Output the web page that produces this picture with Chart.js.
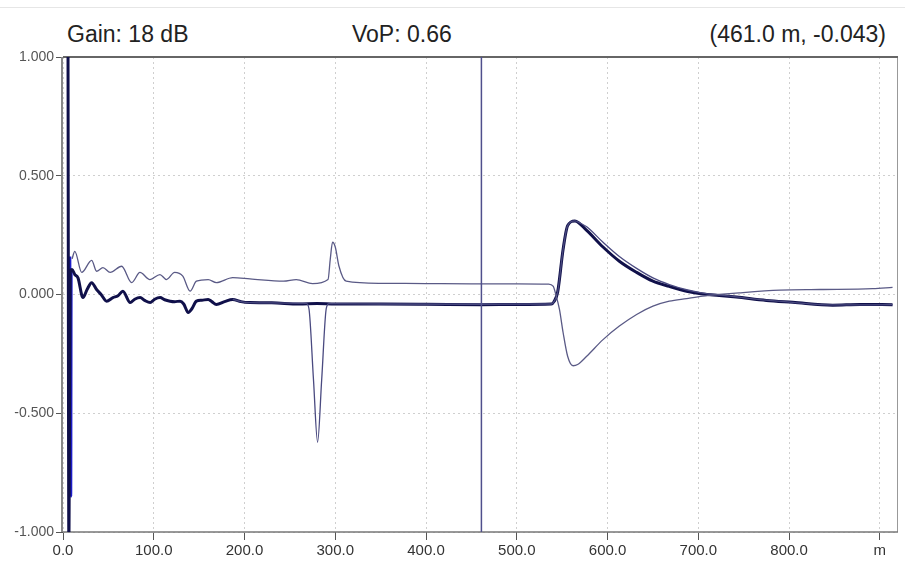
<!DOCTYPE html>
<html lang="en">
<head>
  <meta charset="UTF-8" />
  <title>TDR trace</title>
  <script src="https://cdn.jsdelivr.net/npm/chart.js"></script>
  <style>
    html, body { margin: 0; padding: 0; background: #fff; }
    #wrap { position: relative; width: 905px; height: 565px; overflow: hidden; font-family: "Liberation Sans", Arial, sans-serif; }
    #wrap canvas { position: absolute; left: 0; top: 0; }
    .topline { position: absolute; left: 0; right: 0; top: 7px; border-top: 1px solid #e6e6e6; }
    .hdr { position: absolute; top: 21px; font-size: 23px; color: #222; white-space: nowrap; }
  </style>
</head>
<body>
  <div id="wrap">
    <div class="topline"></div>
    <div class="hdr" style="left:67px">Gain: 18 dB</div>
    <div class="hdr" style="left:352px">VoP: 0.66</div>
    <div class="hdr" style="right:19px">(461.0 m, -0.043)</div>
    <canvas id="trace" width="905" height="565"></canvas>
  </div>

  <script>
    // distance in metres, amplitude in normalised units
    const thickDist = [5.5, 6.5, 8, 10, 13, 16.5, 22, 26.4, 31.6, 37, 42, 48, 55, 60.6, 66, 74, 79, 85, 90, 96, 101, 107, 112, 118, 123, 129, 133, 138, 142, 147, 153, 160, 164, 169, 178, 187, 196, 206, 230, 260, 280, 300, 350, 400, 461, 500, 538, 541, 545, 551, 556, 564, 577, 595, 613, 632, 650, 668, 687, 705, 723, 742, 775, 804, 848, 878, 914];
    const thickVal = [1.1, -1.1, 0.1, 0.105, 0.084, 0.07, -0.013, 0.02, 0.05, 0.021, 0.0, -0.028, -0.013, -0.005, 0.014, -0.034, -0.02, -0.013, -0.025, -0.034, -0.02, -0.013, -0.022, -0.028, -0.03, -0.028, -0.04, -0.076, -0.06, -0.028, -0.024, -0.021, -0.03, -0.042, -0.03, -0.021, -0.03, -0.034, -0.035, -0.04, -0.038, -0.04, -0.04, -0.041, -0.043, -0.042, -0.04, -0.03, 0.01, 0.19, 0.29, 0.31, 0.27, 0.2, 0.14, 0.093, 0.056, 0.034, 0.014, 0.002, -0.004, -0.011, -0.025, -0.033, -0.045, -0.042, -0.043];

    const lowDist = [187, 196, 206, 230, 268, 271, 276, 280.5, 285, 290, 293, 350, 450, 538, 541, 545, 551, 556, 564, 570, 577, 595, 613, 632, 650, 668, 687, 705, 723, 742, 775, 804, 848, 914];
    const lowVal = [-0.021, -0.03, -0.034, -0.035, -0.037, -0.06, -0.36, -0.622, -0.36, -0.06, -0.038, -0.04, -0.041, -0.04, -0.03, 0.01, 0.19, 0.29, 0.31, 0.3, 0.285, 0.22, 0.16, 0.11, 0.07, 0.042, 0.02, 0.006, -0.002, -0.01, -0.024, -0.033, -0.044, -0.043];

    const highDist = [10, 13, 20.6, 31.6, 37, 44, 52, 64.6, 75.7, 84.8, 95.8, 106.8, 114, 123, 132, 140, 147, 160, 169, 187, 206, 243, 257, 275, 292, 294.5, 297, 300, 304, 312, 350, 400, 450, 500, 535, 540, 543, 547, 551, 556, 562, 567, 577, 595, 613, 632, 650, 668, 687, 705, 723, 745, 790, 834, 892, 914];
    const highVal = [0.15, 0.182, 0.093, 0.144, 0.098, 0.113, 0.093, 0.119, 0.05, 0.093, 0.063, 0.084, 0.063, 0.093, 0.077, 0.014, 0.056, 0.063, 0.05, 0.071, 0.066, 0.056, 0.063, 0.046, 0.063, 0.15, 0.22, 0.2, 0.12, 0.056, 0.047, 0.046, 0.045, 0.045, 0.044, 0.035, 0.0, -0.063, -0.16, -0.26, -0.3, -0.295, -0.26, -0.19, -0.133, -0.084, -0.049, -0.028, -0.017, -0.007, 0.0, 0.007, 0.018, 0.021, 0.025, 0.03];

    const nearDist = [7.8, 8.3, 8.8, 9.3, 10];
    const nearVal = [0.16, -0.3, -0.85, 0.1, 0.1];

    const cursorDist = 461.0;
    const xTicks = [0, 100, 200, 300, 400, 500, 600, 700, 800, 900];
    const yTicks = [-1, -0.5, 0, 0.5, 1];

    const pts = (xs, ys) => xs.map((x, i) => ({ x: x, y: ys[i] }));

    const framePlugin = {
      id: 'frame',
      beforeDatasetsDraw(chart) {
        const { ctx, chartArea: a } = chart;
        ctx.save();
        ctx.strokeStyle = '#999';
        ctx.lineWidth = 1;
        ctx.beginPath();
        ctx.moveTo(a.right - 0.5, a.top);
        ctx.lineTo(a.right - 0.5, a.bottom);
        ctx.stroke();
        ctx.strokeStyle = '#666';
        ctx.lineWidth = 2;
        ctx.beginPath();
        ctx.moveTo(a.left, a.top);
        ctx.lineTo(a.right, a.top);
        ctx.stroke();
        ctx.strokeStyle = '#888';
        ctx.lineWidth = 2;
        ctx.beginPath();
        ctx.moveTo(a.left - 1, a.top);
        ctx.lineTo(a.left - 1, a.bottom);
        ctx.stroke();
        ctx.strokeStyle = '#777';
        ctx.lineWidth = 1.5;
        ctx.beginPath();
        ctx.moveTo(a.left, a.bottom);
        ctx.lineTo(a.right, a.bottom);
        ctx.stroke();
        ctx.restore();
      }
    };

    const lineStyle = { pointRadius: 0, fill: false, borderJoinStyle: 'round', cubicInterpolationMode: 'monotone' };

    new Chart(document.getElementById('trace'), {
      type: 'line',
      data: {
        datasets: [
          Object.assign({ label: 'cursor', data: [{ x: cursorDist, y: -1 }, { x: cursorDist, y: 1 }], borderColor: '#4f4f8c', borderWidth: 1.5 }, lineStyle),
          Object.assign({ label: 'high', data: pts(highDist, highVal), borderColor: '#5a5a86', borderWidth: 1.3 }, lineStyle),
          Object.assign({ label: 'low', data: pts(lowDist, lowVal), borderColor: '#4a4a80', borderWidth: 1.3 }, lineStyle),
          Object.assign({ label: 'trace', data: pts(thickDist, thickVal), borderColor: '#10104a', borderWidth: 3 }, lineStyle),
          Object.assign({ label: 'near', data: pts(nearDist, nearVal), borderColor: '#1c1cc8', borderWidth: 2.5 }, lineStyle)
        ]
      },
      options: {
        responsive: false,
        animation: false,
        devicePixelRatio: 1,
        layout: { padding: { left: 0, top: 57, right: 7, bottom: 0 } },
        plugins: { legend: { display: false }, tooltip: { enabled: false } },
        scales: {
          x: {
            type: 'linear',
            min: 0,
            max: 920,
            afterBuildTicks: s => { s.ticks = xTicks.map(v => ({ value: v })); },
            afterFit: s => { s.height = 33; },
            ticks: {
              padding: 2,
              maxRotation: 0,
              autoSkip: false,
              color: '#333',
              font: { family: 'Liberation Sans', size: 15 },
              callback: v => v === 900 ? 'm' : v.toFixed(1)
            },
            grid: { color: '#cfcfcf', tickColor: '#555', tickLength: 8, lineWidth: 1 },
            border: { display: false, dash: [2, 3] }
          },
          y: {
            min: -1,
            max: 1,
            afterBuildTicks: s => { s.ticks = yTicks.map(v => ({ value: v })); },
            afterFit: s => { s.width = 63; },
            ticks: {
              padding: 2,
              color: '#555',
              font: { family: 'Liberation Sans', size: 14 },
              callback: v => v.toFixed(3)
            },
            grid: { color: '#cfcfcf', tickColor: '#555', tickLength: 7, lineWidth: 1 },
            border: { display: false, dash: [2, 3] }
          }
        }
      },
      plugins: [framePlugin]
    });
  </script>
</body>
</html>
